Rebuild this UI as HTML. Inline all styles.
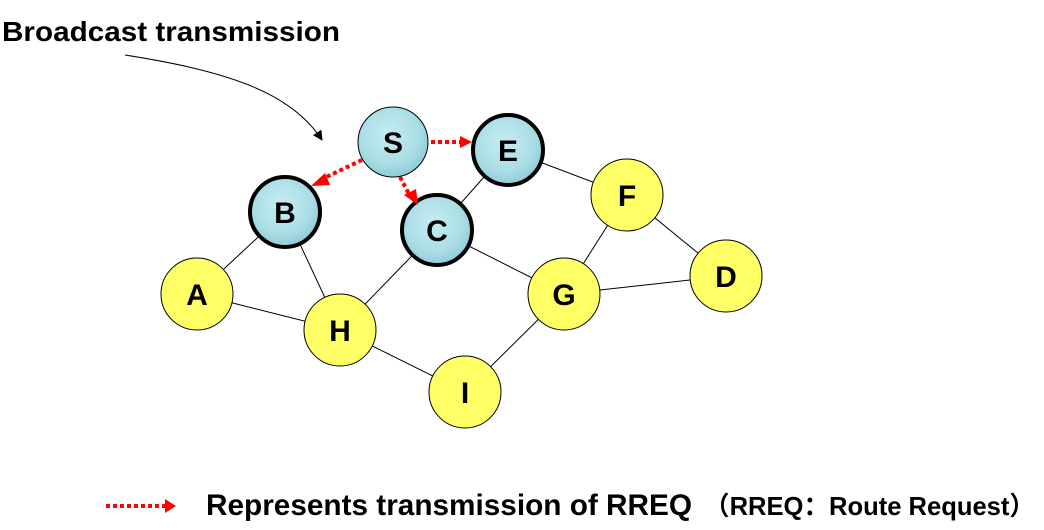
<!DOCTYPE html>
<html><head><style>
html,body{margin:0;padding:0;background:#fff;}
svg{display:block;}
text{font-family:"Liberation Sans",Arial,sans-serif;font-weight:bold;}
</style></head><body>
<svg width="1044" height="530" viewBox="0 0 1044 530" xmlns="http://www.w3.org/2000/svg">
<defs>
<radialGradient id="blue" cx="45%" cy="40%" r="60%">
<stop offset="0" stop-color="#c8ecf2"/><stop offset="0.7" stop-color="#a9dde6"/><stop offset="1" stop-color="#8fcbd6"/>
</radialGradient>
<marker id="ak" markerWidth="10" markerHeight="10" refX="9" refY="5" orient="auto" markerUnits="userSpaceOnUse">
<path d="M0,0 L10,5 L0,10 z" fill="#000"/></marker>
</defs>
<g stroke="#000" stroke-width="1">
<line x1="197" y1="294" x2="285" y2="212"/>
<line x1="197" y1="294" x2="340" y2="330"/>
<line x1="285" y1="212" x2="340" y2="330"/>
<line x1="340" y1="330" x2="437" y2="230"/>
<line x1="340" y1="330" x2="465" y2="392"/>
<line x1="437" y1="230" x2="508" y2="150"/>
<line x1="437" y1="230" x2="564" y2="294"/>
<line x1="508" y1="150" x2="627" y2="195"/>
<line x1="627" y1="195" x2="564" y2="294"/>
<line x1="627" y1="195" x2="726" y2="276"/>
<line x1="564" y1="294" x2="726" y2="276"/>
<line x1="564" y1="294" x2="465" y2="392"/>
</g>
<path d="M125,55 C220,70 290,90 322,140" fill="none" stroke="#000" stroke-width="1" marker-end="url(#ak)"/>
<g stroke="#000">
<circle cx="393" cy="142" r="35" fill="url(#blue)" stroke-width="1"/>
<circle cx="508" cy="150" r="35" fill="url(#blue)" stroke-width="4"/>
<circle cx="285" cy="212" r="35" fill="url(#blue)" stroke-width="4"/>
<circle cx="437" cy="230" r="35" fill="url(#blue)" stroke-width="4"/>
<g fill="#ffff66" stroke-width="1">
<circle cx="197" cy="294" r="36"/>
<circle cx="340" cy="330" r="36"/>
<circle cx="465" cy="392" r="36"/>
<circle cx="564" cy="294" r="36"/>
<circle cx="627" cy="195" r="36"/>
<circle cx="726" cy="276" r="36"/>
</g></g>
<g stroke="#f00" stroke-width="4" stroke-dasharray="4,3" fill="none">
<line x1="431" y1="142" x2="462" y2="142"/>
<line x1="362" y1="160" x2="320" y2="180"/>
<line x1="400" y1="177" x2="410" y2="196"/>
</g>
<path d="M460,136 L472,142 L460,148z" fill="#f00"/>
<path d="M325,173 L311,186 L330,185z" fill="#f00"/>
<path d="M404,195 L418,205 L416,189z" fill="#f00"/>
<g font-size="30" text-anchor="middle">
<text x="393" y="153">S</text><text x="508" y="161">E</text><text x="285" y="223">B</text>
<text x="437" y="241">C</text><text x="197" y="305">A</text><text x="340" y="341">H</text>
<text x="465" y="403">I</text><text x="564" y="305">G</text><text x="627" y="206">F</text>
<text x="726" y="287">D</text>
</g>
<text x="2" y="41" font-size="28" textLength="338" lengthAdjust="spacingAndGlyphs">Broadcast transmission</text>
<line x1="106" y1="506" x2="166" y2="506" stroke="#f00" stroke-width="4" stroke-dasharray="4,3"/>
<path d="M165,499 L176,506 L165,513z" fill="#f00"/>
<text x="206" y="515" font-size="30" textLength="486" lengthAdjust="spacingAndGlyphs">Represents transmission of RREQ</text>
<text x="704" y="515" font-size="26" textLength="331" lengthAdjust="spacingAndGlyphs" style='font-family:"Liberation Sans","Noto Sans CJK SC",sans-serif'>（RREQ：Route Request）</text>
</svg>
</body></html>
